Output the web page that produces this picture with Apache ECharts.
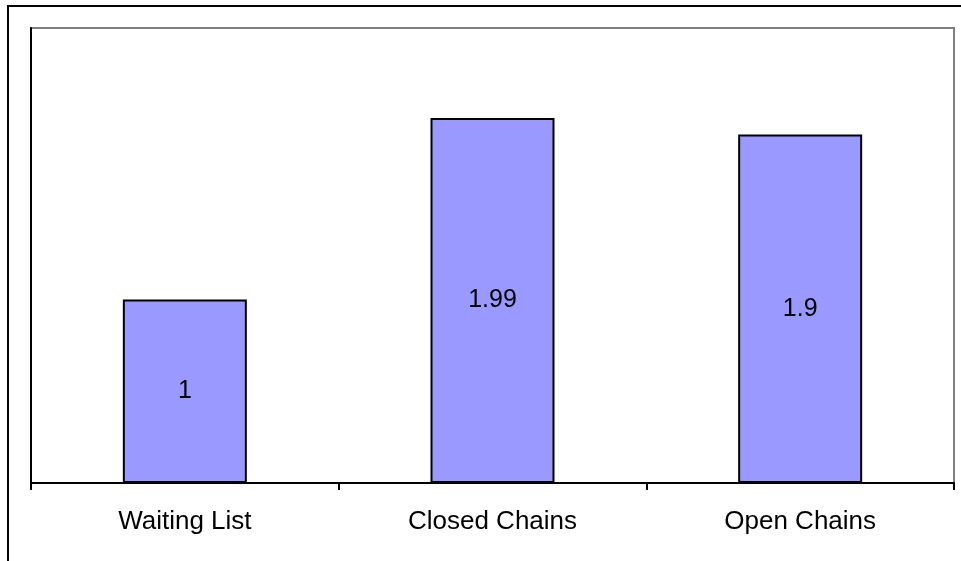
<!DOCTYPE html>
<html>
<head>
<meta charset="utf-8">
<script src="https://cdn.jsdelivr.net/npm/echarts@6/dist/echarts.min.js"></script>
<style>
  html, body { margin: 0; padding: 0; background: #fff; }
  #chart { width: 961px; height: 561px; }
</style>
</head>
<body>
<div id="chart"></div>
<script>
// chart data
const categories = ['Waiting List', 'Closed Chains', 'Open Chains']
const values = [1, 1.99, 1.9]
const yMax = 2.48

const chart = echarts.init(document.getElementById('chart'))

chart.setOption({
  animation: false,
  textStyle: { fontFamily: 'Liberation Sans, Arial, sans-serif' },
  graphic: [
    {
      // outer frame, clipped by the window on the right and bottom
      type: 'rect',
      shape: { x: 8, y: 6, width: 1000, height: 1000 },
      style: { fill: 'none', stroke: '#000', lineWidth: 2 },
      z: -1
    }
  ],
  grid: {
    left: 31,
    top: 28,
    right: 7,
    bottom: 78,
    show: true,
    borderColor: '#808080',
    borderWidth: 2,
    backgroundColor: '#fff'
  },
  xAxis: {
    type: 'category',
    data: categories,
    axisLine: { lineStyle: { color: '#000', width: 2 } },
    axisTick: { show: true, length: 7, lineStyle: { color: '#000', width: 2 } },
    axisLabel: { color: '#000', fontSize: 26, margin: 26 }
  },
  yAxis: {
    type: 'value',
    min: 0,
    max: yMax,
    axisLine: { show: true, lineStyle: { color: '#000', width: 2 } },
    axisTick: { show: false },
    axisLabel: { show: false },
    splitLine: { show: false }
  },
  series: [
    {
      type: 'bar',
      data: values,
      barWidth: 124,
      itemStyle: { color: '#9999ff', borderColor: '#000', borderWidth: 2 },
      label: {
        show: true,
        position: 'inside',
        color: '#000',
        fontSize: 25
      }
    }
  ]
})
</script>
</body>
</html>
